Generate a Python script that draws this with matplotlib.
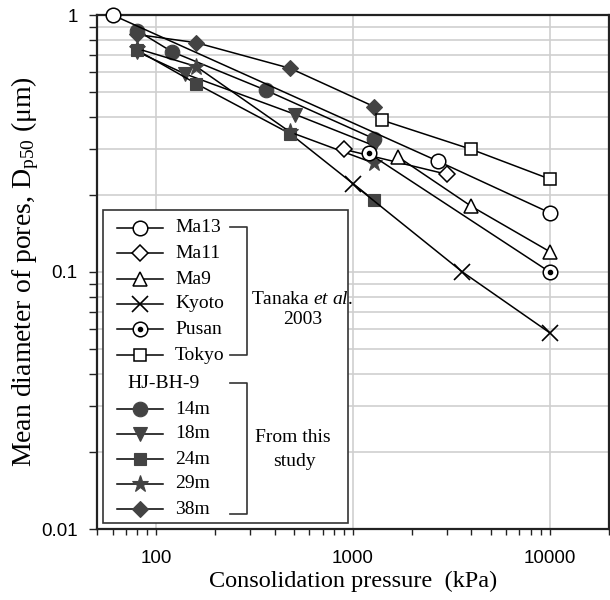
import matplotlib
matplotlib.use("Agg")
import matplotlib.pyplot as plt
from matplotlib.transforms import Affine2D
from matplotlib.lines import Line2D
from matplotlib.patches import Rectangle
from matplotlib.ticker import LogLocator, NullFormatter, FixedLocator, FixedFormatter

# ---------------- data ----------------
# Tanaka et al. 2003
x_ma13 = [60, 2700, 10000]
y_ma13 = [1.0, 0.27, 0.17]
x_ma11 = [900, 3000]
y_ma11 = [0.30, 0.24]
x_ma9 = [1700, 4000, 10000]
y_ma9 = [0.28, 0.18, 0.12]
x_kyoto = [1000, 3600, 10000]
y_kyoto = [0.22, 0.10, 0.058]
x_pusan = [1200, 10000]
y_pusan = [0.29, 0.10]
x_tokyo = [1400, 4000, 10000]
y_tokyo = [0.39, 0.30, 0.23]
# This study (HJ-BH-9)
x_14m = [80, 120, 360, 1280]
y_14m = [0.87, 0.72, 0.51, 0.33]
x_18m = [80, 140, 510, 1280]
y_18m = [0.72, 0.59, 0.41, 0.31]
x_24m = [80, 160, 480, 1280]
y_24m = [0.73, 0.54, 0.345, 0.19]
x_29m = [80, 160, 480, 1280]
y_29m = [0.74, 0.63, 0.35, 0.265]
x_38m = [80, 160, 480, 1280]
y_38m = [0.84, 0.78, 0.62, 0.44]

x_ticks = [100, 1000, 10000]
x_ticklabels = ["100", "1000", "10000"]
y_ticks = [0.01, 0.1, 1]
y_ticklabels = ["0.01", "0.1", "1"]

tanaka_labels = ["Ma13", "Ma11", "Ma9", "Kyoto", "Pusan", "Tokyo"]
study_labels = ["14m", "18m", "24m", "29m", "38m"]

# ---------------- style ----------------
plt.rcParams["mathtext.fontset"] = "custom"
plt.rcParams["mathtext.rm"] = "Liberation Serif"
plt.rcParams["mathtext.it"] = "Liberation Serif:italic"
SERIF = "Liberation Serif"
SANS = "Liberation Sans"
FILL = "#434343"
W, H = 610, 600

fig = plt.figure(figsize=(W / 100, H / 100), dpi=100)
ax = fig.add_axes([97 / W, 1 - 529 / H, (609 - 97) / W, (529 - 15) / H])
ax.set_xscale("log")
ax.set_yscale("log")
ax.set_xlim(50, 20000)
ax.set_ylim(0.01, 1)

open_kw = dict(color="black", lw=1.1, mfc="white", mec="black", mew=1.1, clip_on=False)
fill_kw = dict(color="black", lw=1.1, mfc=FILL, mec=FILL, mew=0.8, clip_on=False)

tanaka_styles = [
    dict(marker="o", ms=10.5),
    dict(marker="D", ms=8),
    dict(marker="^", ms=10),
    dict(marker="x", ms=11, mew=1.2),
    dict(marker="o", ms=10.5),
    dict(marker="s", ms=9),
]
study_styles = [
    dict(marker="o", ms=10.5),
    dict(marker="v", ms=10.5),
    dict(marker="s", ms=9),
    dict(marker="*", ms=12.5),
    dict(marker="D", ms=8.5),
]

tanaka_x = [x_ma13, x_ma11, x_ma9, x_kyoto, x_pusan, x_tokyo]
tanaka_y = [y_ma13, y_ma11, y_ma9, y_kyoto, y_pusan, y_tokyo]
study_x = [x_14m, x_18m, x_24m, x_29m, x_38m]
study_y = [y_14m, y_18m, y_24m, y_29m, y_38m]

for xs, ys, st in zip(study_x, study_y, study_styles):
    kw = dict(fill_kw); kw.update(st)
    ax.plot(xs, ys, zorder=3, **kw)
for i, (xs, ys, st) in enumerate(zip(tanaka_x, tanaka_y, tanaka_styles)):
    kw = dict(open_kw); kw.update(st)
    ax.plot(xs, ys, zorder=4, **kw)
    if tanaka_labels[i] == "Pusan":
        ax.plot(xs, ys, ls="none", marker="o", ms=3, mfc="black", mec="black", zorder=4.5)

# ---------------- axes ----------------
ax.xaxis.set_major_locator(FixedLocator(x_ticks))
ax.xaxis.set_major_formatter(FixedFormatter(x_ticklabels))
ax.xaxis.set_minor_locator(LogLocator(base=10, subs=range(2, 10), numticks=20))
ax.xaxis.set_minor_formatter(NullFormatter())
ax.yaxis.set_major_locator(FixedLocator(y_ticks))
ax.yaxis.set_major_formatter(FixedFormatter(y_ticklabels))
ax.yaxis.set_minor_locator(LogLocator(base=10, subs=range(2, 10), numticks=20))
ax.yaxis.set_minor_formatter(NullFormatter())

ax.tick_params(axis="x", which="both", direction="out", length=4, width=1.0, pad=11,
               labelsize=13.5, colors="#222222", labelcolor="black", labelfontfamily=SANS)
ax.tick_params(axis="y", which="both", direction="out", length=6, width=1.0, pad=8,
               labelsize=13.5, colors="#222222", labelcolor="black", labelfontfamily=SANS)

ax.grid(True, axis="x", which="major", color="#cfcfcf", lw=1.2)
ax.grid(True, axis="y", which="both", color="#cfcfcf", lw=1.2)
ax.set_axisbelow(True)
for sp in ax.spines.values():
    sp.set_color("#222222")
    sp.set_linewidth(1.6)

ax.set_xlabel("Consolidation pressure  (kPa)", fontfamily=SERIF, fontsize=17.5, labelpad=3)
ax.set_ylabel(r"Mean diameter of pores, D$_{\rm p50}$ (μm)", fontfamily=SERIF, fontsize=20, labelpad=0)

# ---------------- manual legend ----------------
pix = Affine2D().scale(1 / W, -1 / H).translate(0, 1) + fig.transFigure

box = Rectangle((103, 210), 245, 313, transform=pix, facecolor="white",
                edgecolor="#333333", lw=1.2, zorder=10, clip_on=False)
fig.add_artist(box)

def handle(y, st, filled, dot=False):
    kw = dict(fill_kw if filled else open_kw); kw.update(st)
    kw.pop("clip_on", None)
    ln = Line2D([117, 163], [y, y], transform=pix, zorder=11, color="black", lw=1.1)
    fig.add_artist(ln)
    mk = Line2D([140], [y], transform=pix, zorder=12, ls="none",
                **{k: v for k, v in kw.items() if k not in ("lw", "color")})
    fig.add_artist(mk)
    if dot:
        fig.add_artist(Line2D([140], [y], transform=pix, zorder=13, ls="none", marker="o", ms=3,
                              mfc="black", mec="black"))

tanaka_rows = [228, 253, 279, 304, 329, 355]
for lab, st, y in zip(tanaka_labels, tanaka_styles, tanaka_rows):
    handle(y, st, False, dot=(lab == "Pusan"))
    fig.text(175, y, lab, transform=pix, fontfamily=SERIF, fontsize=14, va="center", ha="left", zorder=12)

fig.text(127, 383, "HJ-BH-9", transform=pix, fontfamily=SERIF, fontsize=14, va="center", ha="left", zorder=12)
study_rows = [409, 434, 459, 484, 509]
for lab, st, y in zip(study_labels, study_styles, study_rows):
    handle(y, st, True)
    fig.text(175, y, lab, transform=pix, fontfamily=SERIF, fontsize=14, va="center", ha="left", zorder=12)

# brackets
fig.add_artist(Line2D([230, 247, 247, 230], [227, 227, 355, 355], transform=pix, color="#333333", lw=1.2, zorder=12))
fig.add_artist(Line2D([230, 247, 247, 230], [383, 383, 514, 514], transform=pix, color="#333333", lw=1.2, zorder=12))

fig.text(302, 299, r"Tanaka $\it{et\ al.}$", transform=pix, fontfamily=SERIF, fontsize=14, va="center", ha="center", zorder=12)
fig.text(303, 319, "2003", transform=pix, fontfamily=SERIF, fontsize=14, va="center", ha="center", zorder=12)
fig.text(293, 437, "From this", transform=pix, fontfamily=SERIF, fontsize=14, va="center", ha="center", zorder=12)
fig.text(294, 461, "study", transform=pix, fontfamily=SERIF, fontsize=14, va="center", ha="center", zorder=12)

fig.savefig("out.png", dpi=100, facecolor="white")
